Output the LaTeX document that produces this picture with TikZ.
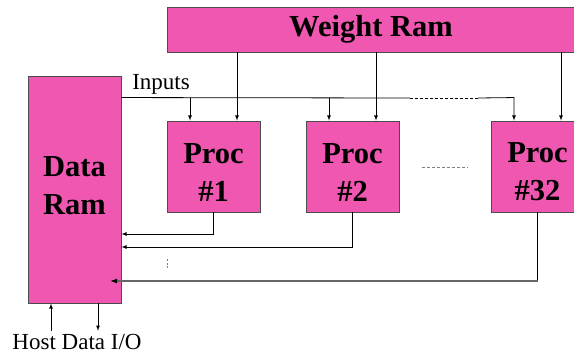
\documentclass[tikz,border=0pt]{standalone}
\usepackage{fontspec}
\setmainfont{Liberation Serif}
\usetikzlibrary{calc,arrows.meta}
\definecolor{ramPink}{RGB}{240,87,176}
\tikzset{
  block/.style={draw=black!70,fill=ramPink,line width=0.9pt,inner sep=0pt,align=center,
    font=\fontsize{30.5}{38}\selectfont\bfseries},
  wire/.style={line width=0.8pt},
  lbl/.style={font=\fontsize{23}{26}\selectfont},
  >=latex
}
\begin{document}
\begin{tikzpicture}[x=1pt,y=-1pt]
\useasboundingbox (0,0) rectangle (574,354);
\node[block,minimum width=408,minimum height=45] (WR) at (371,29.5) {Weight Ram};
\node[block,minimum width=93,minimum height=227] (DR) at (74.5,189.5) {Data\\Ram\rule[-8pt]{0pt}{0pt}};
\foreach \n/\x in {1/213.5,2/352.5,32/537.5}
  \node[block,minimum width=93,minimum height=91] (P\n) at (\x,166.5) {\rule{0pt}{31pt}Proc\\\#\n};
% weights and inputs
\coordinate (inA) at ($(DR.north east)+(0,22)$);
\node[lbl] (inp) at (161,84) {Inputs};
\foreach \n in {1,2,32} {
  \coordinate (W\n) at ($(P\n.north)+(23.5,0)$);
  \coordinate (I\n) at ($(P\n.north)+(-23.5,0)$);
  \draw[wire,->] (W\n |- WR.south) -- (W\n);
}
\draw[wire] (inA) -- (410,98);
\draw[wire,dash pattern=on 3pt off 2pt] (410,98) -- (478,98);
\draw[wire,->] (478,98) -- (I32 |- inA) -- (I32);
\foreach \n in {1,2}
  \draw[wire,->] (I\n |- inA) -- (I\n);
% outputs
\foreach \n/\y in {1/234,2/247}
  \draw[wire,->] (P\n.south) |- (DR.east |- 0,\y);
\draw[wire] (P32.south) -- (P32.south |- 0,281);
\draw[line width=1.2pt,black!60,-{Latex[black,length=7pt,width=5pt]}] (P32.south |- 0,281) -- (110,281);
\draw[wire,gray,dash pattern=on 2pt off 1.5pt] (167,259) -- (167,268);
\draw[wire,gray,dash pattern=on 3pt off 2pt] (422,167) -- (468,167);
% host side
\node[lbl] (host) at (77,342) {Host Data I/O};
\draw[wire,->] (host.north -| 51,0) -- (DR.south -| 51,0);
\draw[wire,->] (DR.south -| 98,0) -- (host.north -| 98,0);
\end{tikzpicture}
\end{document}
